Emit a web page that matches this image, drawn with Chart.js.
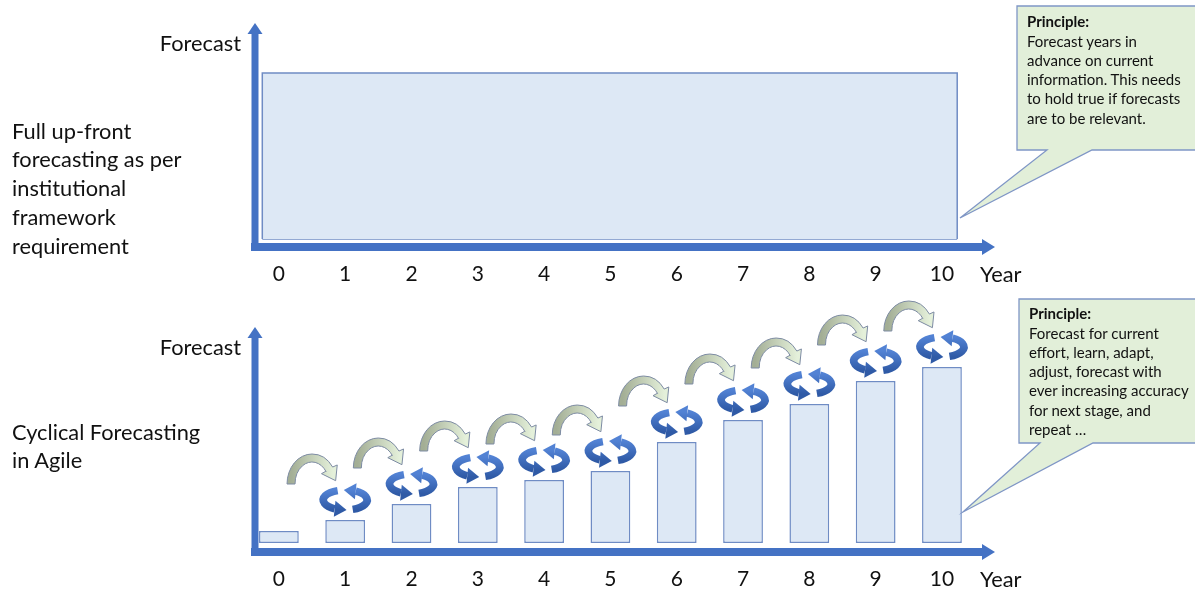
<!DOCTYPE html>
<html><head><meta charset="utf-8">
<script src="https://cdn.jsdelivr.net/npm/chart.js@4.4.1/dist/chart.umd.min.js"></script>
<style>
html,body{margin:0;padding:0;background:#fff;}
#wrap{position:relative;width:1195px;height:592px;overflow:hidden;font-family:Lato,'Open Sans',sans-serif;color:#111;}
canvas{position:absolute;left:0;}
#c1{top:0;} #c2{top:296px;}
.t{position:absolute;white-space:nowrap;z-index:2;}
.big{font-size:21.8px;line-height:24px;}
.blk{font-size:21.8px;line-height:28.75px;}
.note{font-size:15px;line-height:19.3px;}
.note b{font-weight:700;}
</style>
</head><body>
<div id="wrap">
<canvas id="c1" width="1195" height="296"></canvas>
<canvas id="c2" width="1195" height="296"></canvas>
<div class="t big" style="right:954px;top:31px;">Forecast</div>
<div class="t big" style="right:954px;top:335px;">Forecast</div>
<div class="t big" style="left:980px;top:262px;">Year</div>
<div class="t big" style="left:980px;top:567px;">Year</div>
<div class="t blk" style="left:12px;top:116.6px;">Full up-front<br>forecasting as per<br>institutional<br>framework<br>requirement</div>
<div class="t blk" style="left:12px;top:417.6px;">Cyclical Forecasting<br>in Agile</div>
<div class="t note" style="left:1027px;top:12.3px;"><b>Principle:</b><br>Forecast years in<br>advance on current<br>information. This needs<br>to hold true if forecasts<br>are to be relevant.</div>
<div class="t note" style="left:1029px;top:304.3px;"><b>Principle:</b><br>Forecast for current<br>effort, learn, adapt,<br>adjust, forecast with<br>ever increasing accuracy<br>for next stage, and<br>repeat …</div>
</div>
<script>
// ---- data ----
const years = [0,1,2,3,4,5,6,7,8,9,10];
const yearLabels = ['0','1','2','3','4','5','6','7','8','9','10'];
const upfrontForecast = 83;
const upfrontFrom = -0.25;
const upfrontTo = 10.23;
const agileForecast = [12,23,39,56,63,72,101,123,139,162,176];

// ---- plugins ----
const AXIS_BLUE = '#4472c4';
const axisArrows = {
  id: 'axisArrows',
  afterDatasetsDraw(chart) {
    const {ctx, chartArea: a} = chart;
    ctx.save();
    ctx.fillStyle = AXIS_BLUE;
    const w = 7;
    ctx.fillRect(a.left - w/2, a.top + 10, w, a.bottom - a.top - 6);
    ctx.beginPath();
    ctx.moveTo(a.left - 7.5, a.top + 11); ctx.lineTo(a.left, a.top); ctx.lineTo(a.left + 7.5, a.top + 11);
    ctx.closePath(); ctx.fill();
    ctx.fillRect(a.left - 4, a.bottom - 4, (a.right - 12) - (a.left - 4), 8);
    ctx.beginPath();
    ctx.moveTo(a.right - 13, a.bottom - 8); ctx.lineTo(a.right, a.bottom); ctx.lineTo(a.right - 13, a.bottom + 8);
    ctx.closePath(); ctx.fill();
    ctx.restore();
  }
};
const calloutPlugin = {
  id: 'callout',
  afterDraw(chart, args, o) {
    const ctx = chart.ctx;
    const [x1,y1,x2,y2] = o.box, [b1,b2] = o.base, [tx,ty] = o.tip;
    ctx.save();
    ctx.beginPath();
    ctx.moveTo(x1,y1); ctx.lineTo(x2,y1); ctx.lineTo(x2,y2); ctx.lineTo(b2,y2);
    ctx.lineTo(tx,ty); ctx.lineTo(b1,y2); ctx.lineTo(x1,y2); ctx.closePath();
    ctx.fillStyle = '#e2efd9'; ctx.fill();
    ctx.strokeStyle = '#7f96c6'; ctx.lineWidth = 1.3; ctx.stroke();
    ctx.restore();
  }
};
function ePt(cx, cy, rx, ry, t) { return [cx + rx*Math.cos(t), cy + ry*Math.sin(t)]; }
function drawCycle(ctx, cx, cy) {
  const rx = 22, ry = 10, lw = 7.5, hw = 8;
  const g = ctx.createLinearGradient(0, cy - ry, 0, cy + ry);
  g.addColorStop(0, '#5282d4'); g.addColorStop(1, '#2f5aa6');
  ctx.save();
  ctx.strokeStyle = g; ctx.fillStyle = g; ctx.lineWidth = lw; ctx.lineCap = 'butt';
  const arcs = [[-Math.PI/2 - 0.35, Math.PI/2 + 0.5, Math.PI/2],
                [Math.PI/2 - 0.35, -Math.PI/2 + 0.5, -Math.PI/2]];
  for (const [s, e, tip] of arcs) {
    ctx.beginPath(); ctx.ellipse(cx, cy, rx, ry, 0, s, e, true); ctx.stroke();
    const B = ePt(cx, cy, rx, ry, e), T = ePt(cx, cy, rx, ry, tip - 0.05);
    let dx = T[0]-B[0], dy = T[1]-B[1]; const L = Math.hypot(dx,dy); dx/=L; dy/=L;
    const T2 = [B[0] + dx*12, B[1] + dy*12];
    ctx.beginPath();
    ctx.moveTo(T2[0], T2[1]);
    ctx.lineTo(B[0] - dy*hw, B[1] + dx*hw);
    ctx.lineTo(B[0] + dy*hw, B[1] - dx*hw);
    ctx.closePath(); ctx.fill();
  }
  ctx.restore();
}
function drawJump(ctx, cx, by) {
  const rx = 21, ry = 26, t = 4;
  const a0 = Math.PI, a1 = 2*Math.PI - 0.6;
  const C = ePt(cx, by, rx, ry, a1);
  let dx = -rx*Math.sin(a1), dy = ry*Math.cos(a1); const L = Math.hypot(dx,dy); dx/=L; dy/=L;
  const nx = dy, ny = -dx;
  ctx.save();
  ctx.beginPath();
  ctx.ellipse(cx, by, rx + t, ry + t, 0, a0, a1, false);
  ctx.lineTo(C[0] + nx*(t+5), C[1] + ny*(t+5));
  ctx.lineTo(C[0] + dx*13, C[1] + dy*13);
  ctx.lineTo(C[0] - nx*(t+5), C[1] - ny*(t+5));
  ctx.lineTo(C[0] - nx*t, C[1] - ny*t);
  ctx.ellipse(cx, by, rx - t, ry - t, 0, a1, a0, true);
  ctx.closePath();
  const g = ctx.createLinearGradient(cx - rx, 0, cx + rx, 0);
  g.addColorStop(0, '#a3ae95'); g.addColorStop(1, '#e4f0da');
  ctx.fillStyle = g; ctx.fill();
  ctx.strokeStyle = '#7d8ba3'; ctx.lineWidth = 1; ctx.stroke();
  ctx.restore();
}
const cyclePlugin = {
  id: 'cycles',
  afterDatasetsDraw(chart) {
    const bars = chart.getDatasetMeta(0).data, ctx = chart.ctx;
    for (let i = 0; i < bars.length - 1; i++) drawJump(ctx, (bars[i].x + bars[i+1].x)/2, bars[i+1].y - 36);
    for (let i = 1; i < bars.length; i++) drawCycle(ctx, bars[i].x, bars[i].y - 20);
  }
};

function xScale(h) {
  return {
    type: 'linear', min: -0.36, max: 10.8, offset: false,
    grid: {display: false, drawTicks: false}, border: {display: false},
    afterBuildTicks: s => { s.ticks = years.map(v => ({value: v})); },
    afterFit: s => { s.height = h; },
    ticks: {padding: 15, color: '#111', font: {family: 'Lato', size: 21}, maxRotation: 0, autoSkip: false,
            callback: v => yearLabels[years.indexOf(v)]}
  };
}
const FILL = '#dde8f5', EDGE = '#6f8cc4';

new Chart(document.getElementById('c1'), {
  type: 'line',
  data: { datasets: [{
    data: [{x: upfrontFrom, y: 0}, {x: upfrontFrom, y: upfrontForecast}, {x: upfrontTo, y: upfrontForecast},
           {x: upfrontTo, y: 0}],
    fill: 'origin', backgroundColor: FILL, borderColor: EDGE, borderWidth: 1.5, pointRadius: 0, tension: 0
  }, {
    data: [{x: upfrontFrom, y: 0}, {x: upfrontTo, y: 0}],
    fill: false, borderColor: EDGE, borderWidth: 1.5, pointRadius: 0, tension: 0
  }]},
  options: {
    responsive: false, animation: false, devicePixelRatio: 1,
    layout: {padding: {left: 255, right: 200, top: 23, bottom: 0}},
    scales: { x: xScale(49), y: {display: false, min: -4, max: 108} },
    plugins: { legend: {display: false}, tooltip: {enabled: false},
      callout: {box: [1017, 6, 1205, 150], base: [1047, 1092], tip: [960, 218]} }
  },
  plugins: [calloutPlugin, axisArrows]
});

new Chart(document.getElementById('c2'), {
  type: 'bar',
  data: { datasets: [{
    data: years.map((y, i) => ({x: y, y: agileForecast[i]})),
    backgroundColor: FILL, borderColor: EDGE, borderWidth: 1.5, borderSkipped: false,
    barPercentage: 0.6, categoryPercentage: 1
  }]},
  options: {
    responsive: false, animation: false, devicePixelRatio: 1,
    layout: {padding: {left: 255, right: 200, top: 31, bottom: 0}},
    scales: { x: xScale(40), y: {display: false, min: -9, max: 216} },
    plugins: { legend: {display: false}, tooltip: {enabled: false},
      callout: {box: [1019, 3, 1205, 147], base: [1040, 1093], tip: [963, 216]} }
  },
  plugins: [calloutPlugin, axisArrows, cyclePlugin]
});
</script>
</body></html>
